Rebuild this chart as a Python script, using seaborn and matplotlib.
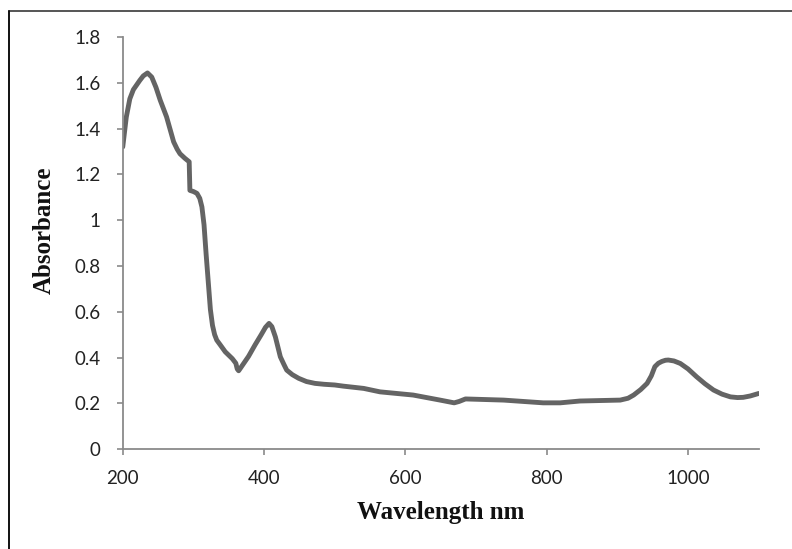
import matplotlib
matplotlib.use("Agg")
import matplotlib.pyplot as plt
from matplotlib.lines import Line2D
from matplotlib.ticker import FuncFormatter
import seaborn as sns
import pandas as pd

wavelength = [200, 205, 210, 215, 224, 229, 235, 241, 247, 253, 262, 272, 277,
              281, 288, 294, 295, 300, 305, 309, 312, 315, 318, 320, 322, 324,
              327, 330, 333, 338, 345, 355, 360, 362, 364, 368, 378, 387, 396,
              402, 407, 411, 416, 423, 428, 432, 440, 449, 460, 472, 485, 500,
              512, 541, 564, 611, 649, 669, 676, 685, 696, 739, 795, 819, 847,
              904, 915, 923, 933, 942, 948, 953, 958, 963, 968, 972, 980, 989,
              1000, 1012, 1024, 1036, 1048, 1060, 1070, 1078, 1088, 1100]
absorbance = [1.32, 1.45, 1.53, 1.57, 1.61, 1.63, 1.643, 1.625, 1.58, 1.524,
              1.451, 1.342, 1.31, 1.29, 1.27, 1.255, 1.13, 1.125, 1.117, 1.095,
              1.058, 0.98, 0.85, 0.77, 0.69, 0.61, 0.54, 0.50, 0.476, 0.455,
              0.425, 0.395, 0.375, 0.35, 0.342, 0.36, 0.405, 0.454, 0.50, 0.532,
              0.549, 0.535, 0.49, 0.403, 0.37, 0.345, 0.325, 0.309, 0.295,
              0.287, 0.283, 0.28, 0.275, 0.265, 0.25, 0.236, 0.214, 0.202,
              0.208, 0.219, 0.218, 0.214, 0.202, 0.202, 0.21, 0.214, 0.222,
              0.236, 0.26, 0.287, 0.32, 0.36, 0.375, 0.383, 0.388, 0.389,
              0.385, 0.374, 0.35, 0.316, 0.285, 0.258, 0.24, 0.228, 0.225,
              0.226, 0.232, 0.243]

x_ticks = [200, 400, 600, 800, 1000]
y_ticks = [0, 0.2, 0.4, 0.6, 0.8, 1.0, 1.2, 1.4, 1.6, 1.8]

df = pd.DataFrame({"Wavelength": wavelength, "Absorbance": absorbance})

sns.set_style("ticks")
plt.rcParams["font.family"] = ["Lato", "DejaVu Sans"]

fig = plt.figure(figsize=(7.92, 5.49), dpi=100)
ax = fig.add_axes([0.155, 0.182, 0.803, 0.7506])

sns.lineplot(data=df, x="Wavelength", y="Absorbance", ax=ax, sort=False,
             estimator=None, color="#646464", linewidth=3.5,
             solid_joinstyle="round", solid_capstyle="round")

ax.set_xlim(200, 1100)
ax.set_ylim(0, 1.8)
ax.set_xticks(x_ticks)
ax.set_yticks(y_ticks)
ax.yaxis.set_major_formatter(FuncFormatter(lambda v, p: f"{v:g}"))

for s in ["top", "right"]:
    ax.spines[s].set_visible(False)
for s in ["left", "bottom"]:
    ax.spines[s].set_color("#8a8a8a")
    ax.spines[s].set_linewidth(1.3)

ax.tick_params(axis="both", direction="out", length=4, width=1.2,
               color="#8a8a8a", labelsize=13.5, labelcolor="#222222")
ax.tick_params(axis="y", pad=12)
ax.tick_params(axis="x", pad=11)

lab_font = dict(family=["Liberation Serif", "DejaVu Serif"], weight="bold",
                size=18, color="#111111")
ax.set_xlabel("Wavelength nm", labelpad=10, **lab_font)
ax.set_ylabel("Absorbance", labelpad=8, **lab_font)
ax.yaxis.set_label_coords(-0.105, 0.53)

# outer frame lines (top and left edges visible in the reference)
fig.add_artist(Line2D([9 / 792, 1.0], [1 - 11 / 549, 1 - 11 / 549],
                      transform=fig.transFigure, color="#555555", linewidth=1.4))
fig.add_artist(Line2D([9 / 792, 9 / 792], [0.0, 1 - 11 / 549],
                      transform=fig.transFigure, color="#111111", linewidth=1.4))

fig.savefig("out.png", dpi=100, facecolor="white")
